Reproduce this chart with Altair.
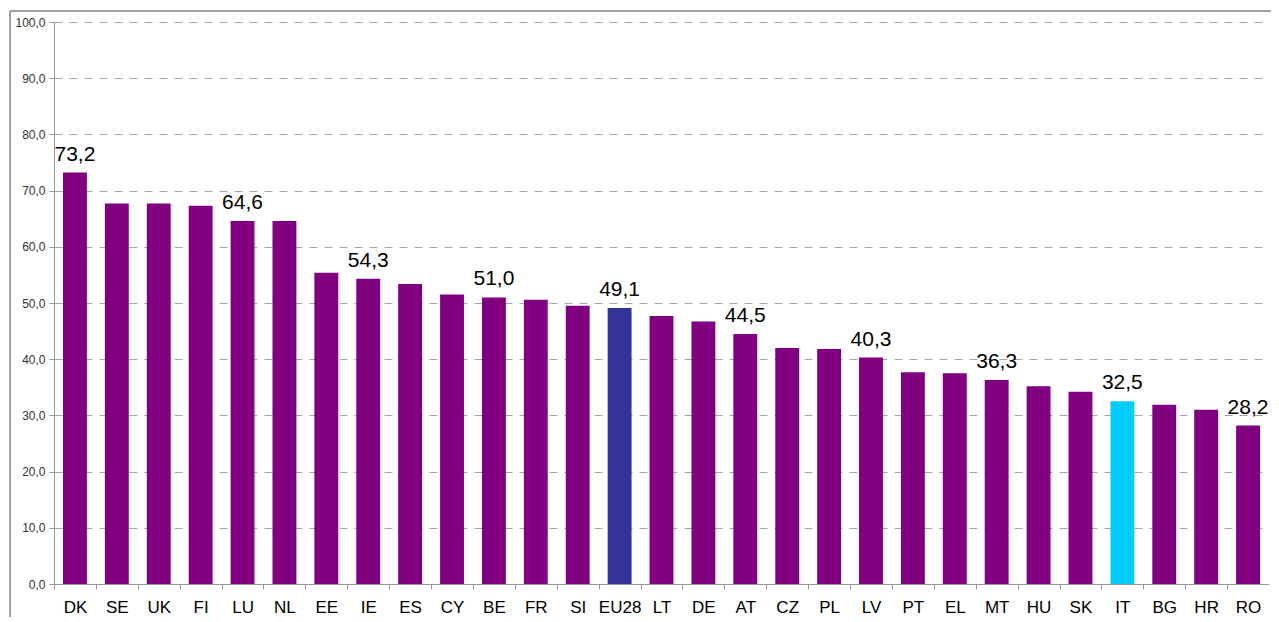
import altair as alt
import pandas as pd

countries = ["DK", "SE", "UK", "FI", "LU", "NL", "EE", "IE", "ES", "CY", "BE", "FR", "SI", "EU28",
             "LT", "DE", "AT", "CZ", "PL", "LV", "PT", "EL", "MT", "HU", "SK", "IT", "BG", "HR", "RO"]
values = [73.2, 67.7, 67.7, 67.3, 64.6, 64.6, 55.4, 54.3, 53.4, 51.5, 51.0, 50.6, 49.5, 49.1,
          47.7, 46.7, 44.5, 42.0, 41.8, 40.3, 37.7, 37.5, 36.3, 35.2, 34.2, 32.5, 31.9, 31.0, 28.2]
labelled = ["DK", "LU", "IE", "BE", "EU28", "AT", "LV", "MT", "IT", "RO"]
special_groups = {"EU28": "eu", "IT": "it"}
group_domain = ["country", "eu", "it"]
group_colors = ["#800080", "#333399", "#00CCFF"]
y_ticks = [0, 10, 20, 30, 40, 50, 60, 70, 80, 90, 100]

df = pd.DataFrame({
    "country": countries,
    "value": values,
    "group": [special_groups.get(c, "country") for c in countries],
    "label": [f"{v:.1f}".replace(".", ",") if c in labelled else "" for c, v in zip(countries, values)],
})

W, H = 1215, 562
step = W / len(countries)
FONT = "Liberation Sans"

x_enc = alt.X(
    "country:N", sort=countries,
    scale=alt.Scale(paddingInner=0.43, paddingOuter=0.215),
    axis=alt.Axis(title=None, labelAngle=0, labelFontSize=17, labelFont=FONT, labelColor="#000000",
                  tickColor="#999999", tickSize=5, tickOffset=-step / 2, labelOffset=step / 2,
                  domainColor="#999999", labelPadding=10, grid=False),
)
y_enc = alt.Y(
    "value:Q", scale=alt.Scale(domain=[0, 100], nice=False),
    axis=alt.Axis(values=y_ticks, labelExpr="replace(format(datum.value, '.1f'), '.', ',')", title=None,
                  gridDash=[8, 7], gridColor="#a6a6a6", tickColor="#999999", tickSize=5,
                  domainColor="#999999", labelFontSize=12, labelFont=FONT, labelColor="#333333",
                  labelPadding=4),
)

base = alt.Chart(df)
bars = base.mark_bar().encode(
    x=x_enc, y=y_enc,
    color=alt.Color("group:N", scale=alt.Scale(domain=group_domain, range=group_colors), legend=None),
)
texts = base.mark_text(baseline="alphabetic", dy=-12, fontSize=21, font=FONT, color="#000000").encode(
    x=alt.X("country:N", sort=countries), y=alt.Y("value:Q"), text="label:N"
).transform_filter("datum.label != ''")

frame_df = pd.DataFrame({"k": [0]})
left_border = alt.Chart(frame_df).mark_rule(color="#a0a0a0", strokeWidth=2).encode(
    x=alt.value(-44), y=alt.value(-11), y2=alt.value(H + 80))
top_border = alt.Chart(frame_df).mark_rule(color="#a0a0a0", strokeWidth=2).encode(
    x=alt.value(-44), x2=alt.value(W + 40), y=alt.value(-11))

chart = alt.layer(bars, texts, left_border, top_border).properties(
    width=W, height=H,
    autosize=alt.AutoSizeParams(type="none"),
    padding={"left": 46, "top": 14, "right": 2, "bottom": 33},
).configure_view(stroke=None)

chart.save("out.html", embed_options={"renderer": "svg", "actions": False})
